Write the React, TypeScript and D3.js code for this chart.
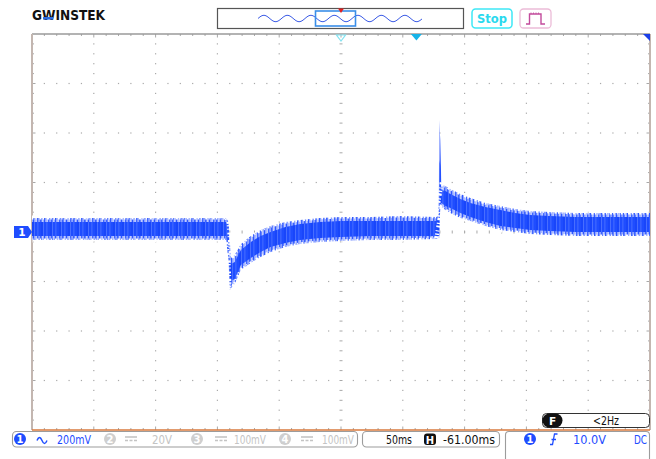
import * as d3 from "d3";

const W = 656;
const H = 459;

// Channel 1 trace: time relative to trigger (ms)
// and the envelope of the noisy trace (mV). "outer" = spike tips, "core" = dense band.
const timeMs = [
  -311, -154, -152, -151, -150, -147, -142, -134, -126, -118, -106, -94, -78, -61, -37, -13, 16, 18,
  18.5, 19.3, 20.2, 23.5, 27.5, 35.6, 43.7, 55.8, 68, 80, 92, 108, 129, 157, 189,
];
const outerHi = [
  57, 57, 40, -32, -105, -93, -48, -16, 8, 24, 40, 48, 57, 61, 61, 65, 61, 65,
  453, 372, 190, 186, 174, 154, 137, 117, 105, 93, 85, 81, 77, 77, 77,
];
const coreHi = [
  40, 40, 24, -121, -129, -121, -73, -40, -16, 0, 20, 32, 40, 44, 44, 44, 44, 48,
  291, 271, 170, 166, 154, 133, 117, 101, 89, 77, 69, 65, 61, 61, 61,
];
const coreLo = [
  -16, -16, -73, -214, -198, -190, -133, -105, -81, -61, -44, -32, -24, -20, -16, -16, -16, -16,
  -16, 117, 117, 105, 97, 77, 61, 40, 24, 16, 8, 4, 0, 0, 0,
];
const outerLo = [
  -32, -32, -113, -238, -226, -210, -154, -125, -101, -81, -61, -48, -40, -36, -32, -32, -28, -24,
  -24, 101, 101, 89, 77, 57, 44, 24, 8, 0, -8, -12, -16, -16, -16,
];

const timePerDivMs = 50;
const voltPerDivMv = 200;
const hPositionMs = -61;
const divsX = 10;
const divsY = 8;

const channelLabels = ["200mV", "20V", "100mV", "100mV"];
const timebaseLabel = "50ms";
const hPositionLabel = "-61.00ms";
const triggerLevelLabel = "10.0V";
const freqLabel = "<2Hz";

const BLUE = "#1f4dff";
const FONT = "DejaVu Sans, Liberation Sans, sans-serif";

type Pt = { t: number; oh: number; ch: number; cl: number; ol: number };
const trace: Pt[] = timeMs.map((t, i) => ({
  t,
  oh: outerHi[i],
  ch: coreHi[i],
  cl: coreLo[i],
  ol: outerLo[i],
}));

function Badge({ cx, cy, n, fill }: { cx: number; cy: number; n: string; fill: string }) {
  return (
    <g>
      <circle cx={cx} cy={cy} r={6} fill={fill} />
      <text x={cx} y={cy + 3.6} textAnchor="middle" fontSize={10} fontWeight="bold" fill="#fff" fontFamily={FONT}>
        {n}
      </text>
    </g>
  );
}

function DcIcon({ x, y }: { x: number; y: number }) {
  return (
    <g stroke="#c4c4c4" strokeWidth={1.6}>
      <line x1={x} x2={x + 12} y1={y - 2} y2={y - 2} />
      <line x1={x} x2={x + 12} y1={y + 1.5} y2={y + 1.5} strokeDasharray="3 1.5" />
    </g>
  );
}

export default function App() {
  const L = 32, T = 34, R = 650, B = 430;
  const x = d3
    .scaleLinear()
    .domain([hPositionMs - (timePerDivMs * divsX) / 2, hPositionMs + (timePerDivMs * divsX) / 2])
    .range([L, R]);
  const y = d3
    .scaleLinear()
    .domain([(-voltPerDivMv * divsY) / 2, (voltPerDivMv * divsY) / 2])
    .range([B, T]);
  // minor grid: 5 per division
  const gx = d3.scaleLinear().domain([0, divsX * 5]).range([L, R]);
  const gy = d3.scaleLinear().domain([0, divsY * 5]).range([T, B]);

  const outerArea = d3
    .area<Pt>()
    .x((d) => x(d.t))
    .y0((d) => y(d.ol))
    .y1((d) => y(d.oh));
  const coreArea = d3
    .area<Pt>()
    .x((d) => x(d.t))
    .y0((d) => y(d.cl))
    .y1((d) => y(d.ch));
  const topEdge = d3.line<Pt>().x((d) => x(d.t)).y((d) => y(d.oh) - 0.5);
  const botEdge = d3.line<Pt>().x((d) => x(d.t)).y((d) => y(d.ol) + 0.5);

  const dots = [];
  for (let k = 1; k < divsX; k++) {
    if (k === divsX / 2) continue;
    for (let j = 1; j < divsY * 5; j++) {
      dots.push(<rect key={`v${k}-${j}`} x={gx(k * 5) - 0.6} y={gy(j) - 0.6} width={1.2} height={1.2} />);
    }
  }
  for (let k = 1; k < divsY; k++) {
    if (k === divsY / 2) continue;
    for (let j = 1; j < divsX * 5; j++) {
      if (j % 5 === 0) continue;
      dots.push(<rect key={`h${k}-${j}`} x={gx(j) - 0.6} y={gy(k * 5) - 0.6} width={1.2} height={1.2} />);
    }
  }

  const ticks = [];
  for (let j = 1; j < divsX * 5; j++) {
    const len = j % 5 === 0 ? 3.5 : 2;
    const xx = gx(j);
    ticks.push(<line key={`tt${j}`} x1={xx} x2={xx} y1={T} y2={T + len} />);
    ticks.push(<line key={`tb${j}`} x1={xx} x2={xx} y1={B} y2={B - len} />);
    ticks.push(<line key={`tc${j}`} x1={xx} x2={xx} y1={y(0) - 1.5} y2={y(0) + 1.5} />);
  }
  for (let j = 1; j < divsY * 5; j++) {
    const len = j % 5 === 0 ? 3.5 : 2;
    const yy = gy(j);
    ticks.push(<line key={`tl${j}`} x1={L} x2={L + len} y1={yy} y2={yy} />);
    ticks.push(<line key={`tr${j}`} x1={R} x2={R - len} y1={yy} y2={yy} />);
    ticks.push(<line key={`tm${j}`} x1={x(hPositionMs) - 1.5} x2={x(hPositionMs) + 1.5} y1={yy} y2={yy} />);
  }

  // memory bar wave icon
  const wavePts = d3.range(0, 165, 1).map((i) => [258 + i, 18.5 + 3.2 * Math.sin((i / 23.5) * Math.PI * 2 + Math.PI)] as [number, number]);
  const wavePath = d3.line()(wavePts) ?? "";

  const trigX = x(0);
  const y0 = y(0);

  return (
    <svg
      width={W}
      height={H}
      style={{ position: "absolute", left: 0, top: 0, background: "#fff", fontFamily: FONT }}
    >
      <defs>
        {/* noise-like texture for the trace band */}
        <pattern id="outerTex" patternUnits="userSpaceOnUse" width={11} height={4}>
          <rect width={11} height={4} fill="#8ea3ff" />
          <rect x={0} width={1} height={4} fill="#2d57ff" />
          <rect x={2.5} width={1.3} height={4} fill="#c6d1ff" />
          <rect x={4.2} width={1} height={4} fill="#2d57ff" />
          <rect x={7} width={1.5} height={4} fill="#3a62ff" />
          <rect x={9.3} width={0.8} height={4} fill="#d5ddff" />
        </pattern>
        <pattern id="coreTex" patternUnits="userSpaceOnUse" width={9} height={4}>
          <rect width={9} height={4} fill={BLUE} />
          <rect x={1.5} width={0.8} height={4} fill="#4f74ff" />
          <rect x={5.5} width={1} height={4} fill="#123ff5" />
          <rect x={7.3} width={0.7} height={4} fill="#5a7cff" />
        </pattern>
      </defs>
      <rect width={W} height={H} fill="#fff" />

      {/* logo */}
      <text x={32} y={19.5} fontSize={13.5} fontWeight="bold" fill="#111" textLength={73} lengthAdjust="spacingAndGlyphs">
        GWINSTEK
      </text>
      <rect x={43} y={17} width={10} height={2.6} fill="#2b6be0" />

      {/* memory bar */}
      <rect x={217.5} y={8.5} width={246} height={20} fill="#fff" stroke="#555" strokeWidth={1.2} />
      <path d={wavePath} fill="none" stroke="#3b5be6" strokeWidth={1} />
      <rect x={315.5} y={11} width={40} height={15} fill="none" stroke="#3a8ee8" strokeWidth={1.6} />
      <path d="M338,8.5 H344 L341,13 Z" fill="#e02020" />

      {/* Stop + trigger mode */}
      <rect x={472} y={9} width={40} height={19} rx={3.5} fill="#fff" stroke="#3ee8f6" strokeWidth={1.5} />
      <text x={492} y={23} textAnchor="middle" fontSize={11.5} fontWeight="bold" fill="#2ad9ee">
        Stop
      </text>
      <rect x={520} y={9} width={31} height={19} rx={3.5} fill="#fff" stroke="#ecbcd8" strokeWidth={1.3} />
      <path d="M526,24 H529.5 V14 H541 V24 H545" fill="none" stroke="#c24b9c" strokeWidth={1.4} />
      <path d="M531,12.5 V14 M533.5,12.5 V14 M536,12.5 V14 M538.5,12.5 V14" stroke="#c24b9c" strokeWidth={0.8} />

      {/* grid */}
      <g fill="#a9a9a9">{dots}</g>
      <g stroke="#a8a8a8" strokeWidth={1}>{ticks}</g>
      <line x1={L} x2={R} y1={T} y2={T} stroke="#9a9a9a" strokeWidth={1.3} />
      <line x1={L} x2={L} y1={T} y2={B} stroke="#c3b6b0" strokeWidth={2} />
      <line x1={R} x2={R} y1={T} y2={B} stroke="#c3b6b0" strokeWidth={2} />

      {/* trace */}
      <path d={outerArea(trace) ?? ""} fill="url(#outerTex)" />
      <path d={coreArea(trace) ?? ""} fill="url(#coreTex)" />
      <g fill="none" stroke="#fff" strokeWidth={4} strokeDasharray="1.4 2.2 0.9 3.1 1.8 1.6 1.1 2.7 2.3 1.3">
        <path d={topEdge(trace.filter((d) => d.t < 18 || d.t > 20)) ?? ""} />
        <path d={botEdge(trace.filter((d) => d.t < 18 || d.t > 20)) ?? ""} strokeDashoffset={3} />
      </g>

      {/* markers */}
      <path d={`M${x(hPositionMs) - 4.5},35 H${x(hPositionMs) + 4.5} L${x(hPositionMs)},41 Z`} fill="none" stroke="#84e4f2" strokeWidth={1.2} />
      <path d={`M${trigX - 5.5},34 H${trigX + 5.5} L${trigX},40.5 Z`} fill="#16b3e8" />
      <path d={`M${R - 7},34 H${R} V41 Z`} fill="#1b3fe8" />
      <path d={`M14,${y0 - 6} H28 L32,${y0} L28,${y0 + 6} H14 Z`} fill={BLUE} />
      <text x={22} y={y0 + 4} textAnchor="middle" fontSize={10.5} fontWeight="bold" fill="#fff">
        1
      </text>

      {/* frequency box */}
      <rect x={542.5} y={413.5} width={107} height={14} rx={4} fill="#fff" stroke="#333" strokeWidth={1} />
      <rect x={542.5} y={413.5} width={20} height={14} rx={7} fill="#111" />
      <text x={552.5} y={424.5} textAnchor="middle" fontSize={10.5} fontWeight="bold" fill="#fff">
        F
      </text>
      <text x={606} y={425} textAnchor="middle" fontSize={11.5} fill="#111" textLength={26} lengthAdjust="spacingAndGlyphs">
        {freqLabel}
      </text>

      <line x1={L} x2={R} y1={B} y2={B} stroke="#d97a3e" strokeWidth={1.6} />

      {/* channel box */}
      <rect x={12.5} y={431.5} width={345} height={15.5} rx={4} fill="#fff" stroke="#9c9c9c" strokeWidth={1.1} />
      <Badge cx={20} cy={439} n="1" fill={BLUE} />
      <path d="M37,440.5 q2.5,-6 5,0 t5,0" fill="none" stroke={BLUE} strokeWidth={1.5} />
      <text x={57} y={444} fontSize={12} fill={BLUE} textLength={34} lengthAdjust="spacingAndGlyphs">
        {channelLabels[0]}
      </text>
      <Badge cx={110} cy={439} n="2" fill="#cfcfcf" />
      <DcIcon x={125} y={439} />
      <text x={152} y={444} fontSize={12} fill="#c4c4c4" textLength={20} lengthAdjust="spacingAndGlyphs">
        {channelLabels[1]}
      </text>
      <Badge cx={197} cy={439} n="3" fill="#cfcfcf" />
      <DcIcon x={215} y={439} />
      <text x={234} y={444} fontSize={12} fill="#c4c4c4" textLength={32} lengthAdjust="spacingAndGlyphs">
        {channelLabels[2]}
      </text>
      <Badge cx={285} cy={439} n="4" fill="#cfcfcf" />
      <DcIcon x={301} y={439} />
      <text x={322} y={444} fontSize={12} fill="#c4c4c4" textLength={32} lengthAdjust="spacingAndGlyphs">
        {channelLabels[3]}
      </text>

      {/* timebase box */}
      <rect x={362.5} y={431.5} width={137} height={15.5} rx={4} fill="#fff" stroke="#9c9c9c" strokeWidth={1.1} />
      <text x={386} y={444} fontSize={12} fill="#111" textLength={26} lengthAdjust="spacingAndGlyphs">
        {timebaseLabel}
      </text>
      <rect x={424} y={433.5} width={12} height={11.5} rx={3} fill="#111" />
      <text x={430} y={443.5} textAnchor="middle" fontSize={10} fontWeight="bold" fill="#fff">
        H
      </text>
      <text x={495} y={444} textAnchor="end" fontSize={12} fill="#111" textLength={52} lengthAdjust="spacingAndGlyphs">
        {hPositionLabel}
      </text>

      {/* trigger box */}
      <path d="M505.5,462 V435 Q505.5,431.5 509,431.5 H646 Q649.5,431.5 649.5,435 V462" fill="#fff" stroke="#9c9c9c" strokeWidth={1.1} />
      <Badge cx={530} cy={439} n="1" fill={BLUE} />
      <path d="M550,444.5 H552.5 L554.5,434 H557.5 M551.5,439.5 H556" fill="none" stroke={BLUE} strokeWidth={1.3} />
      <text x={573} y={444} fontSize={12} fill={BLUE} textLength={33} lengthAdjust="spacingAndGlyphs">
        {triggerLevelLabel}
      </text>
      <text x={647} y={444} textAnchor="end" fontSize={12} fill={BLUE} textLength={13} lengthAdjust="spacingAndGlyphs">
        DC
      </text>
    </svg>
  );
}
